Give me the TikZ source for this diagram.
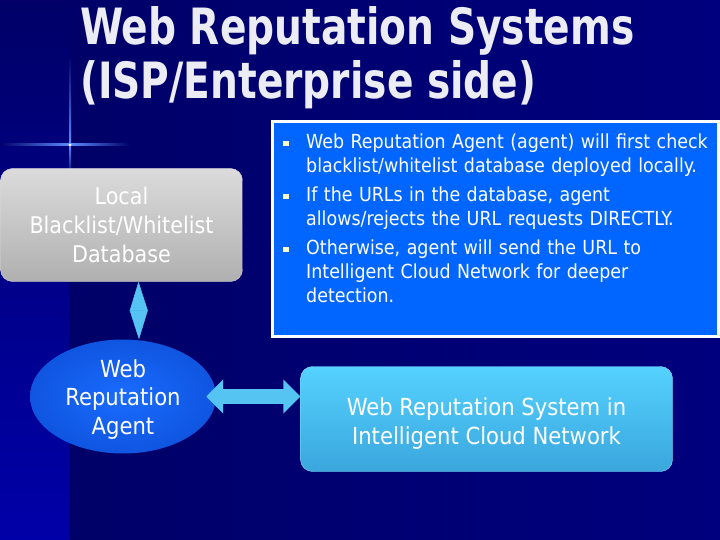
\documentclass[tikz,border=0pt]{standalone}
\usepackage{fontspec}
\setmainfont{DejaVu Sans Condensed}
\newfontfamily\titlefont{DejaVu Sans Condensed Bold}[FakeStretch=0.87]
\usetikzlibrary{arrows.meta,positioning,calc,shapes.geometric}
\definecolor{navy}{HTML}{000068}
\definecolor{navyright}{HTML}{00007E}
\definecolor{stripblue}{HTML}{0000A8}
\definecolor{glowblue}{HTML}{5A8CFF}
\definecolor{titlegray}{HTML}{ECECF4}
\definecolor{notesblue}{HTML}{0066FF}
\definecolor{agentblue}{HTML}{1A6CFF}
\definecolor{agentedge}{HTML}{0F55E0}
\definecolor{cloudtop}{HTML}{55D2FF}
\definecolor{cloudbottom}{HTML}{3AA6DD}
\definecolor{linkblue}{HTML}{55C4F2}
\definecolor{bulletcol}{HTML}{FFFFCC}
\newcommand{\bitem}[1]{\hangindent=23pt\hangafter=1\noindent\makebox[23pt][l]{\textcolor{bulletcol}{\rule[2.5pt]{5.5pt}{5.5pt}}}#1\par}
\begin{document}
\begin{tikzpicture}[x=1pt, y=-1pt,
  dbbox/.style={rectangle, rounded corners=12pt, draw=gray!30, top color=gray!28, bottom color=gray!62, text=white, align=center, font=\fontsize{23}{29}\selectfont, minimum width=242pt, minimum height=113pt},
  agentball/.style={ellipse, inner color=agentblue, outer color=agentedge, text=white, align=center, font=\fontsize{23.5}{28.5}\selectfont, minimum width=186pt, minimum height=114pt, inner xsep=0pt, inner ysep=-4pt},
  cloudbox/.style={rectangle, rounded corners=12pt, draw=cloudtop!70!white, top color=cloudtop, bottom color=cloudbottom, text=white, align=center, font=\fontsize{23.5}{29}\selectfont, minimum width=372pt, minimum height=105pt},
  notebox/.style={rectangle, draw=white, line width=3pt, fill=notesblue, minimum width=446pt, minimum height=215pt},
  linkarrow/.style={draw=linkblue, fill=linkblue}]
  \useasboundingbox (0,0) rectangle (720,540);
  \fill[navy] (0,0) rectangle (720,540);
  \shade[top color=navy, bottom color=stripblue] (0,0) rectangle (69,540);
  \shade[left color=navy, right color=navyright] (69,0) rectangle (720,540);
  \shade[top color=navy, bottom color=glowblue] (69,55) rectangle (71,145);
  \shade[top color=glowblue, bottom color=navy] (69,145) rectangle (71,177);
  \shade[left color=navy, right color=glowblue] (0,144) rectangle (70,146);
  \shade[left color=glowblue, right color=navy] (70,144) rectangle (130,146);
  \fill[white] (70,145) circle (1.5);

  \node (title) [anchor=north west, inner sep=0pt, align=left, text=titlegray, font=\titlefont\fontsize{50}{54}\selectfont] at (80,6) {Web Reputation Systems\\(ISP/Enterprise side)};

  \node (db) [dbbox] at (121.5,225) {Local\\Blacklist/Whitelist\\Database};
  \node (agent) [agentball] at (123,396.5) {\rule{0pt}{23pt}Web\\Reputation\\Agent};
  \node (cloud) [cloudbox] at (486.5,419) {\rule{0pt}{26pt}Web Reputation System in\\Intelligent Cloud Network};
  \node (notes) [notebox] at (495.5,229) {};
  \node (bullets) [anchor=north west, inner sep=0pt, text width=430pt, align=left, text=white, font=\fontsize{19.4}{24}\selectfont] at (283,134) {\setlength{\parskip}{5pt}%
    \bitem{Web Reputation Agent (agent) will first check\newline blacklist/whitelist database deployed locally.}
    \bitem{If the URLs in the database, agent\newline allows/rejects the URL requests DIRECTLY.}
    \bitem{Otherwise, agent will send the URL to\newline Intelligent Cloud Network for deeper\newline detection.}};

  \draw[linkarrow, line width=0.5pt, {Triangle[length=29pt,width=18pt]}-{Triangle[length=29pt,width=18pt]}] ([xshift=17pt]db.south) -- ([xshift=16pt]agent.north);
  \draw[linkarrow, line width=15pt, {Triangle[length=17pt,width=33pt]}-{Triangle[length=17pt,width=33pt]}] ([xshift=-10pt]agent.east) -- (agent.east -| cloud.west);
\end{tikzpicture}
\end{document}
